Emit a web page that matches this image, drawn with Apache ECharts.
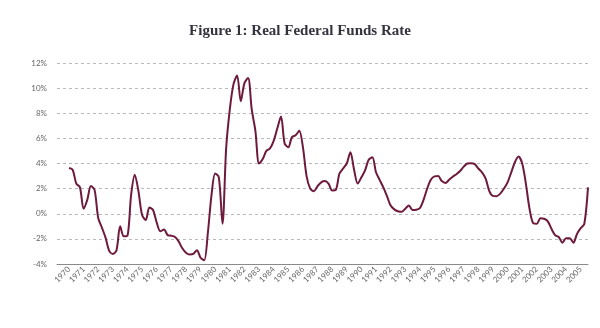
<!DOCTYPE html>
<html>
<head>
<meta charset="utf-8">
<script src="https://cdn.jsdelivr.net/npm/echarts@6/dist/echarts.min.js"></script>
<style>
html,body{margin:0;padding:0;background:#fff;}
#chart{width:600px;height:328px;}
</style>
</head>
<body>
<div id="chart"></div>
<script>
// Quarterly real federal funds rate (%), 1970 Q1 .. 2005 Q3
const startYear = 1970;
const yearLabels = [1970,1971,1972,1973,1974,1975,1976,1977,1978,1979,1980,1981,1982,1983,1984,1985,1986,1987,1988,1989,1990,1991,1992,1993,1994,1995,1996,1997,1998,1999,2000,2001,2002,2003,2004,2005];
const rateValues = [
  3.64, 3.5, 2.4, 2.1,      // 1970
  0.4, 1.1, 2.2, 1.9,       // 1971
  -0.35, -1.1, -1.9, -2.95, // 1972
  -3.2, -2.9, -1.0, -1.8,   // 1973
  -1.75, 1.5, 3.1, 1.8,     // 1974
  -0.1, -0.5, 0.5, 0.3,     // 1975
  -0.7, -1.4, -1.25, -1.7,  // 1976
  -1.75, -1.85, -2.2, -2.75,// 1977
  -3.1, -3.25, -3.2, -2.9,  // 1978
  -3.5, -3.7, -1.5, 1.5,    // 1979
  3.2, 2.9, -0.8, 5.2,      // 1980
  8.3, 10.3, 11.0, 8.95,    // 1981
  10.4, 10.8, 8.3, 6.6,     // 1982
  4.0, 4.35, 5.0, 5.2,      // 1983
  5.8, 6.8, 7.75, 5.6,      // 1984
  5.3, 6.1, 6.25, 6.6,      // 1985
  5.3, 3.0, 2.0, 1.8,       // 1986
  2.2, 2.5, 2.6, 2.4,       // 1987
  1.85, 1.9, 3.2, 3.6,      // 1988
  4.0, 4.9, 3.5, 2.4,       // 1989
  2.9, 3.45, 4.3, 4.5,      // 1990
  3.3, 2.7, 2.1, 1.4,       // 1991
  0.65, 0.35, 0.2, 0.15,    // 1992
  0.4, 0.65, 0.3, 0.32,     // 1993
  0.45, 1.1, 2.0, 2.7,      // 1994
  2.97, 3.0, 2.6, 2.45,     // 1995
  2.7, 2.95, 3.15, 3.4,     // 1996
  3.75, 4.0, 4.02, 3.95,    // 1997
  3.6, 3.3, 2.8, 1.8,       // 1998
  1.42, 1.4, 1.6, 2.0,      // 1999
  2.5, 3.3, 4.1, 4.55,      // 2000
  4.0, 2.4, 0.4, -0.75,     // 2001
  -0.8, -0.35, -0.4, -0.6,  // 2002
  -1.2, -1.7, -1.85, -2.3,  // 2003
  -1.95, -1.95, -2.3, -1.6, // 2004
  -1.15, -0.8, 2.1          // 2005
];
const yTicks = [-4, -2, 0, 2, 4, 6, 8, 10, 12];

const seriesData = rateValues.map((v, i) => [startYear + i / 4, v]);

const chart = echarts.init(document.getElementById('chart'), null, {renderer: 'canvas'});
chart.setOption({
  animation: false,
  backgroundColor: '#ffffff',
  title: {
    text: 'Figure 1: Real Federal Funds Rate',
    left: 'center',
    top: 19,
    textStyle: {
      fontFamily: '"Liberation Serif", "DejaVu Serif", serif',
      fontWeight: 'bold',
      fontSize: 15,
      color: '#33333d'
    }
  },
  grid: {left: 57, right: 12, top: 63, bottom: 64, containLabel: false},
  xAxis: {
    type: 'value',
    min: 1969.18,
    max: 2005.5,
    axisLine: {onZero: false, lineStyle: {color: '#8a8a8a', width: 1}},
    axisTick: {show: false},
    splitLine: {show: false},
    axisLabel: {
      customValues: yearLabels,
      rotate: 45,
      fontSize: 8,
      color: '#666',
      margin: 4,
      fontFamily: 'Lato, "Open Sans", sans-serif',
      formatter: v => String(Math.round(v))
    }
  },
  yAxis: {
    type: 'value',
    min: yTicks[0],
    max: yTicks[yTicks.length - 1],
    interval: 2,
    axisLine: {show: false},
    axisTick: {show: false},
    axisLabel: {
      fontSize: 8,
      color: '#666',
      margin: 10,
      fontFamily: 'Lato, "Open Sans", sans-serif',
      formatter: '{value}%'
    },
    splitLine: {lineStyle: {type: [3, 3], color: '#b8b8b8', width: 1}}
  },
  series: [{
    type: 'line',
    data: seriesData,
    smooth: 0.3,
    showSymbol: false,
    lineStyle: {color: '#6e1a3c', width: 2}
  }]
});
</script>
</body>
</html>
